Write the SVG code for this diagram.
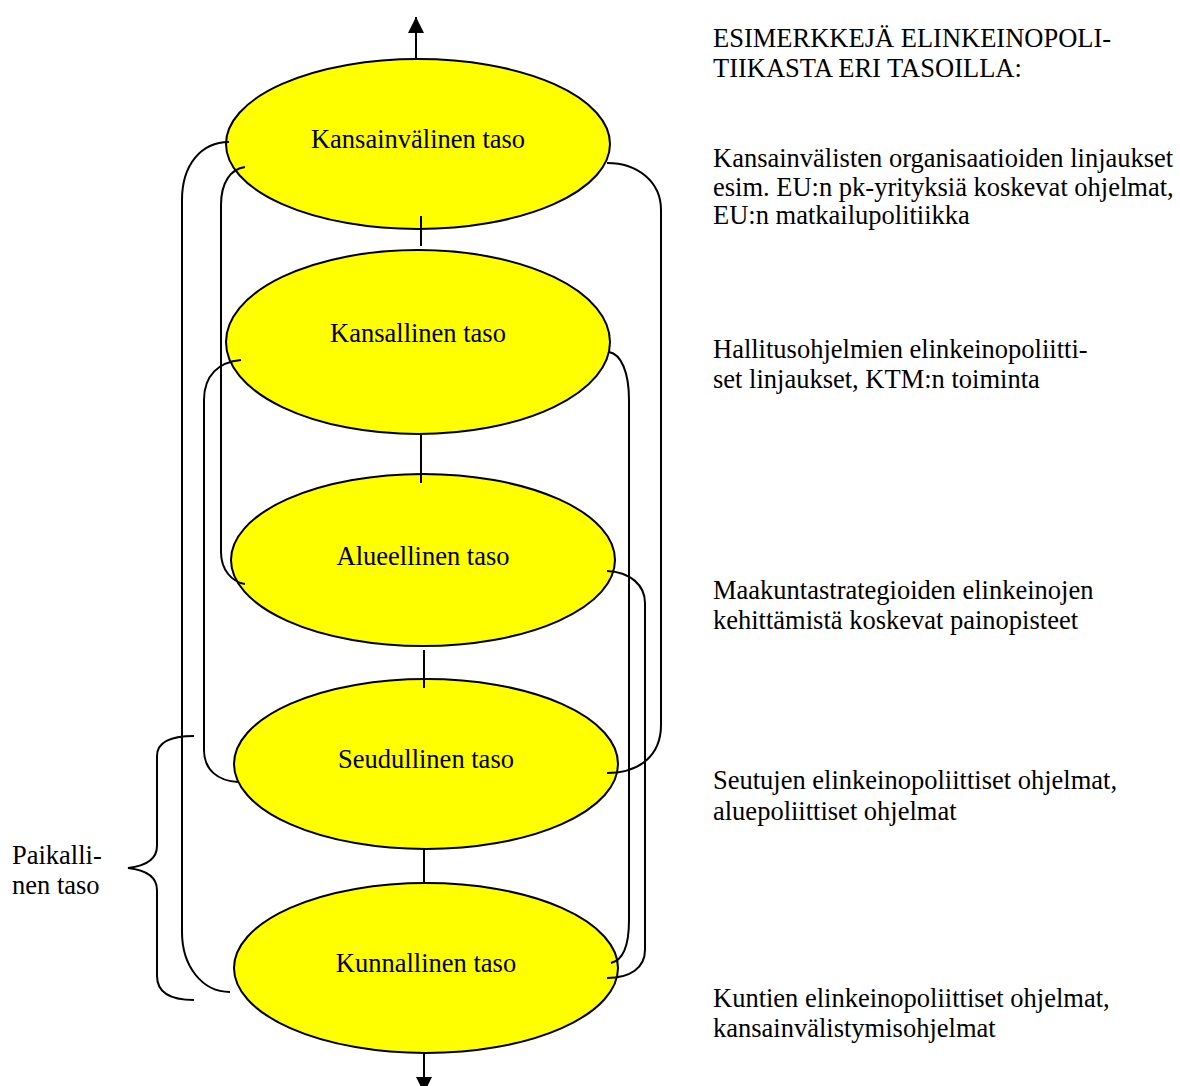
<svg xmlns="http://www.w3.org/2000/svg" width="1180" height="1086" viewBox="0 0 1180 1086">
<style>
.node ellipse{fill:#ffff00;stroke:#000;stroke-width:2}
.t{font-family:"Liberation Serif","Times New Roman",serif;font-size:26.5px;fill:#000}
.c{text-anchor:middle}
.conn path,.conn line{fill:none;stroke:#000;stroke-width:2}
</style>
<defs>
<marker id="arrow" markerUnits="userSpaceOnUse" markerWidth="16" markerHeight="16" viewBox="0 0 16 16" refX="16" refY="8" orient="auto">
<path d="M0,0 L16,8 L0,16 z" fill="#000"/>
</marker>
</defs>
<rect width="1180" height="1086" fill="#fff"/>
<g id="n1" class="node"><ellipse cx="418" cy="144" rx="192" ry="85"/><text class="t c" x="418" y="148">Kansainvälinen taso</text></g>
<g id="n2" class="node"><ellipse cx="418" cy="342" rx="192" ry="92"/><text class="t c" x="418" y="342">Kansallinen taso</text></g>
<g id="n3" class="node"><ellipse cx="423" cy="560" rx="192" ry="86"/><text class="t c" x="423" y="565">Alueellinen taso</text></g>
<g id="n4" class="node"><ellipse cx="426" cy="764" rx="192" ry="85"/><text class="t c" x="426" y="768">Seudullinen taso</text></g>
<g id="n5" class="node"><ellipse cx="426" cy="968" rx="192" ry="85"/><text class="t c" x="426" y="972">Kunnallinen taso</text></g>
<g id="connectors" class="conn">
<line x1="416" y1="59" x2="416" y2="17" marker-end="url(#arrow)"/>
<line x1="421" y1="216" x2="421" y2="246"/>
<line x1="421" y1="435" x2="421" y2="483"/>
<line x1="424" y1="650" x2="424" y2="688"/>
<line x1="424" y1="849" x2="424" y2="883"/>
<line x1="424" y1="1053" x2="424" y2="1093" marker-end="url(#arrow)"/>
<path d="M229 142 C201 142 182 165 182 200 L182 932 C182 966 202 992 230 992"/>
<path d="M245 167 C231 169 221 182 221 205 L221 552 C221 570 232 582 245 584"/>
<path d="M241 360 C219 362 204 375 204 400 L204 750 C204 770 218 781 238 782"/>
<path d="M607 163 C638 163 661 182 661 210 L661 725 C661 755 640 773 607 773"/>
<path d="M609 352 C621 354 629 372 629 400 L629 920 C629 945 624 960 611 963"/>
<path d="M607 571 C630 572 645 585 645 603 L645 950 C645 968 630 978 607 978"/>
</g>
<g id="brace" class="conn">
<path d="M194 736 C170 736 157 742 157 756 L157 846 C157 860 145 866 128 868 C145 870 157 876 157 890 L157 976 C157 992 170 1000 194 1000"/>
</g>
<g id="notes" class="t">
<text x="713" y="47">ESIMERKKEJÄ ELINKEINOPOLI-</text>
<text x="713" y="77">TIIKASTA ERI TASOILLA:</text>
<text x="713" y="167">Kansainvälisten organisaatioiden linjaukset</text>
<text x="713" y="196">esim. EU:n pk-yrityksiä koskevat ohjelmat,</text>
<text x="713" y="224">EU:n matkailupolitiikka</text>
<text x="713" y="358">Hallitusohjelmien elinkeinopoliitti-</text>
<text x="713" y="388">set linjaukset, KTM:n toiminta</text>
<text x="713" y="599">Maakuntastrategioiden elinkeinojen</text>
<text x="713" y="629">kehittämistä koskevat painopisteet</text>
<text x="713" y="789">Seutujen elinkeinopoliittiset ohjelmat,</text>
<text x="713" y="820">aluepoliittiset ohjelmat</text>
<text x="713" y="1007">Kuntien elinkeinopoliittiset ohjelmat,</text>
<text x="713" y="1037">kansainvälistymisohjelmat</text>
<text x="12" y="864">Paikalli-</text>
<text x="12" y="894">nen taso</text>
</g>
</svg>
